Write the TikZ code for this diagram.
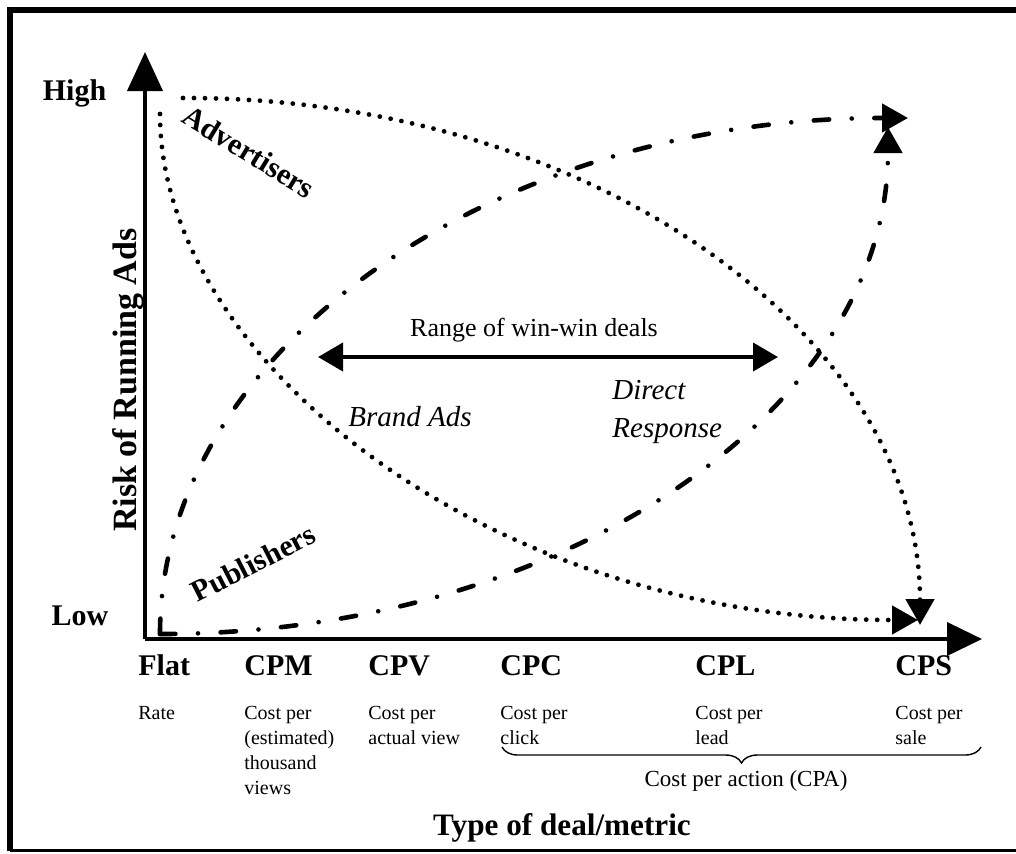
\documentclass[tikz,border=0pt]{standalone}
\usepackage{fontspec}
\setmainfont{Liberation Serif}
\usetikzlibrary{arrows.meta,decorations.pathreplacing}

\newcommand\stacknote[1]{\begin{tabular}[t]{@{}l@{}}#1\end{tabular}}

\tikzset{
  frameline/.style={line width=2.6pt},
  axisline/.style={line width=2pt},
  dotcurve/.style={line width=2.4pt, line cap=round, dash pattern=on 0pt off 5.5pt,
    -{Triangle[length=13pt,width=14pt]}},
  dashdotcurve/.style={line width=2.3pt, line cap=round,
    dash pattern=on 7.7pt off 11.3pt on 0pt off 11.3pt,
    -{Triangle[length=13pt,width=14pt]}},
  rangearrow/.style={line width=2pt, {Triangle[length=12.5pt,width=14pt]}-{Triangle[length=12.5pt,width=14pt]}},
  metric/.style={inner sep=0pt, anchor=base west, font=\fontsize{15}{18}\selectfont\bfseries},
  note/.style={inner sep=0pt, anchor=base west, font=\fontsize{10}{12.5}\selectfont},
  level/.style={inner sep=0pt, anchor=base, font=\fontsize{15}{18}\selectfont\bfseries},
  party/.style={inner sep=0pt, anchor=base, font=\fontsize{15}{18}\selectfont\bfseries},
  adtype/.style={inner sep=0pt, anchor=base west, align=left,
    font=\fontsize{14.5}{19}\selectfont\itshape},
}

\begin{document}
\begin{tikzpicture}[x=0.5pt, y=-0.5pt]
\useasboundingbox (0,0) rectangle (1016,853);

% outer frame (open on the right)
\coordinate (fTL) at (10,10);
\coordinate (fTR) at (1016,10);
\coordinate (fBL) at (10,850.5);
\coordinate (fBR) at (1016,850.5);
\draw[frameline] (fTR) -- (fTL) -- (fBL);
\draw[line width=1.2pt] (fBL) -- (fBR);

% axes
\coordinate (O) at (145,639);
\coordinate (ytip) at (145,52);
\coordinate (xtip) at (982,639);
\draw[axisline, -{Triangle[length=19.5pt,width=17.5pt]}] (O) -- (ytip);
\draw[axisline, -{Triangle[length=17.5pt,width=16.5pt]}] (O) -- (xtip);

% axis labels
\node[level] (high) at (74.5,100) {High};
\node[level] (low) at (80,625) {Low};
\node[inner sep=0pt, anchor=base, rotate=90, font=\fontsize{17}{20}\selectfont\bfseries]
  (risk) at (136,380) {Risk of Running Ads};
\node[inner sep=0pt, anchor=base, font=\fontsize{15.6}{19}\selectfont\bfseries]
  (xtitle) at (562,835) {Type of deal/metric};

% deal types along the x axis
\node[metric] (flat) at (138,675) {Flat};
\node[metric] (cpm)  at (244,675) {CPM};
\node[metric] (cpv)  at (368,675) {CPV};
\node[metric] (cpc)  at (500,675) {CPC};
\node[metric] (cpl)  at (695,675) {CPL};
\node[metric] (cps)  at (895,675) {CPS};

\node[note] (flatnote) at (138,719) {\stacknote{Rate}};
\node[note] (cpmnote)  at (244,719) {\stacknote{Cost per\\(estimated)\\thousand\\views}};
\node[note] (cpvnote)  at (368,719) {\stacknote{Cost per\\actual view}};
\node[note] (cpcnote)  at (500,719) {\stacknote{Cost per\\click}};
\node[note] (cplnote)  at (695,719) {\stacknote{Cost per\\lead}};
\node[note] (cpsnote)  at (895,719) {\stacknote{Cost per\\sale}};

% brace grouping the action based deals
\coordinate (braceR) at (981,747);
\coordinate (braceL) at (502,747);
\draw[line width=0.7pt, decorate, decoration={brace, amplitude=8pt}] (braceR) -- (braceL);
\node[inner sep=0pt, anchor=base, font=\fontsize{11.5}{14}\selectfont]
  (cpa) at (746,786) {Cost per action (CPA)};

% advertisers' risk curves (dotted)
\coordinate (a1s) at (183,98);
\coordinate (a1e) at (920,625);
\coordinate (a2s) at (160,114);
\coordinate (a2e) at (918,620);
\draw[dotcurve] (a1s) .. controls (590,97) and (920,334) .. (a1e);
\draw[dotcurve] (a2s) .. controls (160,360) and (489,620) .. (a2e);

% publishers' risk curves (dash-dot)
\coordinate (p1s) at (160,634);
\coordinate (p1e) at (908,118);
\coordinate (p2s) at (160,634);
\coordinate (p2e) at (888,127);
\draw[dashdotcurve] (p1s) .. controls (160,349) and (494,118) .. (p1e);
\draw[dashdotcurve] (p2s) .. controls (562,634) and (888,410) .. (p2e);

% curve labels
\node[party, rotate=-31.4] (adv) at (243.5,160.5) {Advertisers};
\node[party, rotate=27] (pub) at (258,572) {Publishers};

% range of win-win deals
\coordinate (rangeL) at (318,357);
\coordinate (rangeR) at (778,357);
\draw[rangearrow] (rangeL) -- (rangeR);
\node[inner sep=0pt, anchor=base, font=\fontsize{13}{16}\selectfont]
  (range) at (534,336) {Range of win-win deals};

\node[adtype] (brand) at (348,426) {Brand Ads};
\node[adtype] (direct) at (612,437) {Direct\\Response};
\end{tikzpicture}
\end{document}
